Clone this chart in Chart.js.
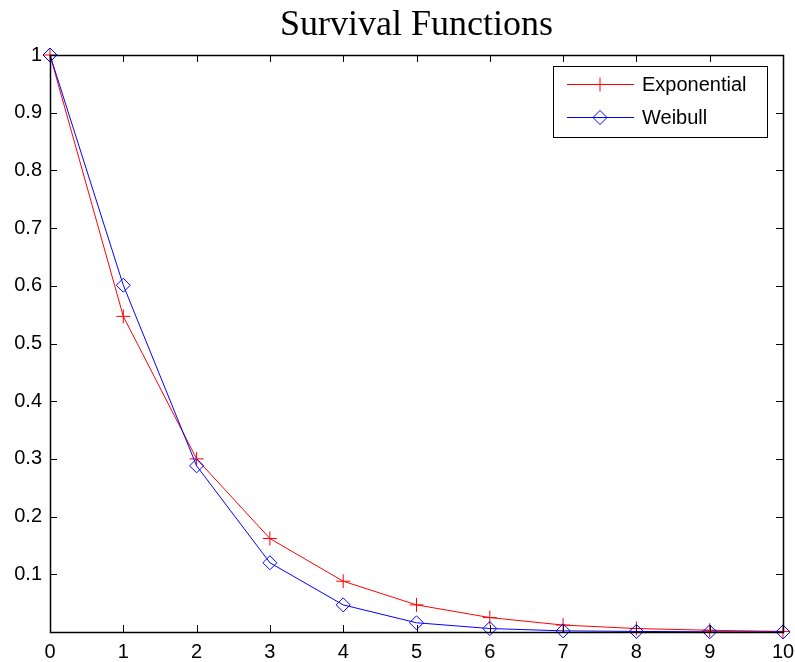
<!DOCTYPE html>
<html>
<head>
<meta charset="utf-8">
<script src="https://cdn.jsdelivr.net/npm/chart.js@4.4.1/dist/chart.umd.min.js"></script>
<style>
  html, body { margin: 0; padding: 0; background: #fff; }
  #wrap { width: 795px; height: 662px; }
</style>
</head>
<body>
<div id="wrap"><canvas id="chart" width="795" height="662"></canvas></div>
<script>
// values
const xValues = [0, 1, 2, 3, 4, 5, 6, 7, 8, 9, 10];
const exponential = [1, 0.547, 0.300, 0.162, 0.088, 0.047, 0.025, 0.012, 0.006, 0.003, 0.001];
const weibull = [1, 0.601, 0.288, 0.120, 0.047, 0.016, 0.006, 0.002, 0.001, 0.0003, 0.0001];
const seriesNames = ['Exponential', 'Weibull'];
const titleText = 'Survival Functions';

const TICK_LEN = 7;

Chart.defaults.font.family = "'Liberation Sans', Arial, sans-serif";
Chart.defaults.font.size = 20;
Chart.defaults.color = '#000';

// axes box, inward ticks, title and matlab-ish legend
const matlabAxes = {
  id: 'matlabAxes',
  afterDraw(chart) {
    const ctx = chart.ctx;
    const a = chart.chartArea;
    const xs = chart.scales.x, ys = chart.scales.y;
    ctx.save();
    ctx.strokeStyle = '#000';
    ctx.lineWidth = 1;
    ctx.beginPath();
    xs.ticks.forEach(t => {
      const px = Math.round(xs.getPixelForValue(t.value)) + 0.5;
      ctx.moveTo(px, a.bottom); ctx.lineTo(px, a.bottom - TICK_LEN);
      ctx.moveTo(px, a.top); ctx.lineTo(px, a.top + TICK_LEN);
    });
    ys.ticks.forEach(t => {
      const py = Math.round(ys.getPixelForValue(t.value)) + 0.5;
      ctx.moveTo(a.left, py); ctx.lineTo(a.left + TICK_LEN, py);
      ctx.moveTo(a.right, py); ctx.lineTo(a.right - TICK_LEN, py);
    });
    ctx.stroke();
    ctx.lineWidth = 1.5;
    ctx.strokeRect(Math.round(a.left) + 0.5, Math.round(a.top) + 0.5,
                   Math.round(a.right - a.left), Math.round(a.bottom - a.top));

    // title centred on the axes
    ctx.fillStyle = '#000';
    ctx.font = "36px 'Liberation Serif', 'Times New Roman', serif";
    ctx.textAlign = 'center';
    ctx.textBaseline = 'alphabetic';
    ctx.fillText(titleText, (a.left + a.right) / 2, 35);

    // legend
    const lx = 553, ly = 66, lw = 214, lh = 71;
    ctx.fillStyle = '#fff';
    ctx.fillRect(lx, ly, lw, lh);
    ctx.lineWidth = 1;
    ctx.strokeStyle = '#000';
    ctx.strokeRect(lx + 0.5, ly + 0.5, lw, lh);
    ctx.font = "20px 'Liberation Sans', Arial, sans-serif";
    ctx.textAlign = 'left';
    ctx.textBaseline = 'middle';
    chart.data.datasets.forEach((ds, i) => {
      const y = ly + 18 + i * 33;
      ctx.strokeStyle = ds.borderColor;
      ctx.lineWidth = 1;
      ctx.beginPath();
      ctx.moveTo(567, y + 0.5); ctx.lineTo(634, y + 0.5);
      ctx.stroke();
      ctx.fillStyle = 'rgba(0,0,0,0)';
      Chart.helpers.drawPoint(ctx, {
        pointStyle: ds.pointStyle, radius: ds.pointRadius, borderWidth: 1, rotation: 0
      }, 600, y + 0.5);
      ctx.fillStyle = '#000';
      ctx.fillText(ds.label, 642, y + 1);
    });
    ctx.restore();
  }
};

new Chart(document.getElementById('chart'), {
  type: 'line',
  data: {
    datasets: [
      {
        label: seriesNames[0],
        data: xValues.map((x, i) => ({ x: x, y: exponential[i] })),
        borderColor: '#ff0000',
        backgroundColor: 'rgba(0,0,0,0)',
        borderWidth: 1,
        pointStyle: 'cross',
        pointRadius: 7,
        pointBorderWidth: 1,
        tension: 0,
        clip: false,
        order: 1
      },
      {
        label: seriesNames[1],
        data: xValues.map((x, i) => ({ x: x, y: weibull[i] })),
        borderColor: '#0000ff',
        backgroundColor: 'rgba(0,0,0,0)',
        borderWidth: 1,
        pointStyle: 'rectRot',
        pointRadius: 7,
        pointBorderWidth: 1,
        tension: 0,
        clip: false,
        order: 0
      }
    ]
  },
  options: {
    responsive: false,
    animation: false,
    layout: { padding: { top: 55, right: 12, left: 0, bottom: 0 } },
    plugins: {
      legend: { display: false },
      title: { display: false },
      tooltip: { enabled: false }
    },
    scales: {
      x: {
        type: 'linear',
        min: 0, max: 10,
        afterFit: s => { s.height = 30; s.paddingLeft = 0; s.paddingRight = 0; },
        grid: { display: false, drawTicks: false },
        border: { display: false },
        ticks: { stepSize: 1, padding: 8, maxRotation: 0 }
      },
      y: {
        type: 'linear',
        min: 0, max: 1,
        afterFit: s => { s.width = 50; s.paddingTop = 0; s.paddingBottom = 0; },
        grid: { display: false, drawTicks: false },
        border: { display: false },
        ticks: {
          stepSize: 0.1,
          padding: 8,
          callback: v => {
            const r = Math.round(v * 10) / 10;
            return r === 0 ? '' : String(r);
          }
        }
      }
    }
  },
  plugins: [matlabAxes]
});
</script>
</body>
</html>
